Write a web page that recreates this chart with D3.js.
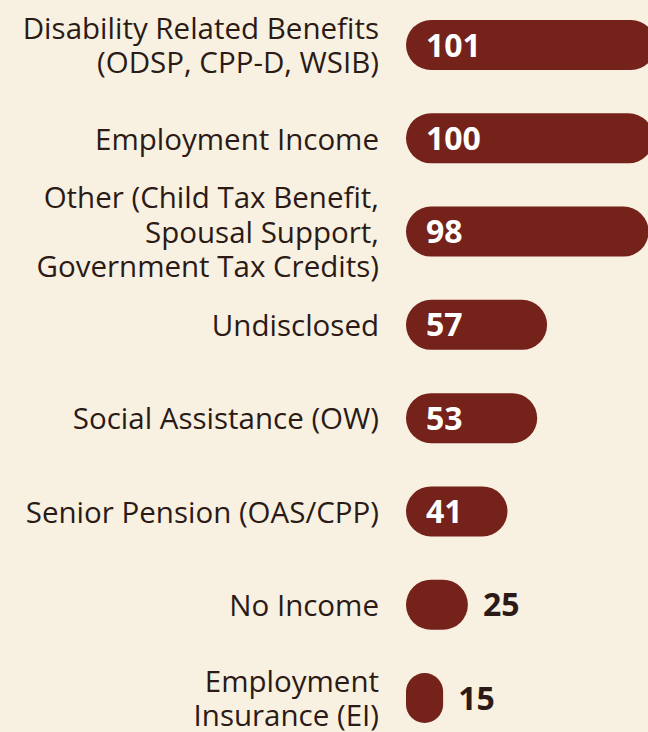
<!DOCTYPE html>
<html>
<head>
<meta charset="utf-8">
<script src="https://cdn.jsdelivr.net/npm/d3@7"></script>
<style>
  html, body { margin: 0; padding: 0; background: #f8f1e1; }
  svg { display: block; }
</style>
</head>
<body>
<div id="chart"></div>
<script>
// Data
const categories = [
    ["Disability Related Benefits", "(ODSP, CPP-D, WSIB)"],
    ["Employment Income"],
    ["Other (Child Tax Benefit,", "Spousal Support,", "Government Tax Credits)"],
    ["Undisclosed"],
    ["Social Assistance (OW)"],
    ["Senior Pension (OAS/CPP)"],
    ["No Income"],
    ["Employment", "Insurance (EI)"]
];
const values = [101, 100, 98, 57, 53, 41, 25, 15];

// Layout
const WIDTH = 648, HEIGHT = 732;
const BAR_X = 406;
const BAR_H = 50;
const LABEL_X = 379;
const LINE_H = 34.5;
const BAR_COLOR = "#74221a";
const TEXT_COLOR = "#2b1a16";
const FONT = "'Open Sans', 'Noto Sans', sans-serif";

const svg = d3.select("#chart").append("svg")
    .attr("width", WIDTH)
    .attr("height", HEIGHT);

const ids = d3.range(values.length);

const y = d3.scalePoint()
    .domain(ids)
    .range([45, 698]);

const x = d3.scaleLinear()
    .domain([0, 101])
    .range([0, 250]);

const rows = svg.selectAll("g.row")
    .data(ids)
    .join("g")
    .attr("class", "row")
    .attr("transform", i => `translate(0,${y(i)})`);

// bars
rows.append("rect")
    .attr("x", BAR_X)
    .attr("y", -BAR_H / 2)
    .attr("width", i => x(values[i]))
    .attr("height", BAR_H)
    .attr("rx", i => Math.min(x(values[i]), BAR_H) / 2)
    .attr("fill", BAR_COLOR);

// category labels (right aligned, multi-line)
rows.append("text")
    .attr("text-anchor", "end")
    .attr("font-family", FONT)
    .attr("font-size", 29.5)
    .attr("fill", TEXT_COLOR)
    .selectAll("tspan")
    .data(i => categories[i].map((line, j, arr) => ({ line, j, n: arr.length })))
    .join("tspan")
    .attr("x", LABEL_X)
    .attr("y", d => (d.j - (d.n - 1) / 2) * LINE_H)
    .attr("dy", "0.38em")
    .text(d => d.line);

// value labels
rows.append("text")
    .attr("font-family", FONT)
    .attr("font-weight", 700)
    .attr("font-size", 32)
    .attr("dy", "0.36em")
    .attr("x", i => values[i] >= 30 ? BAR_X + 20 : BAR_X + x(values[i]) + 15)
    .attr("fill", i => values[i] >= 30 ? "#ffffff" : TEXT_COLOR)
    .text(i => values[i]);
</script>
</body>
</html>
